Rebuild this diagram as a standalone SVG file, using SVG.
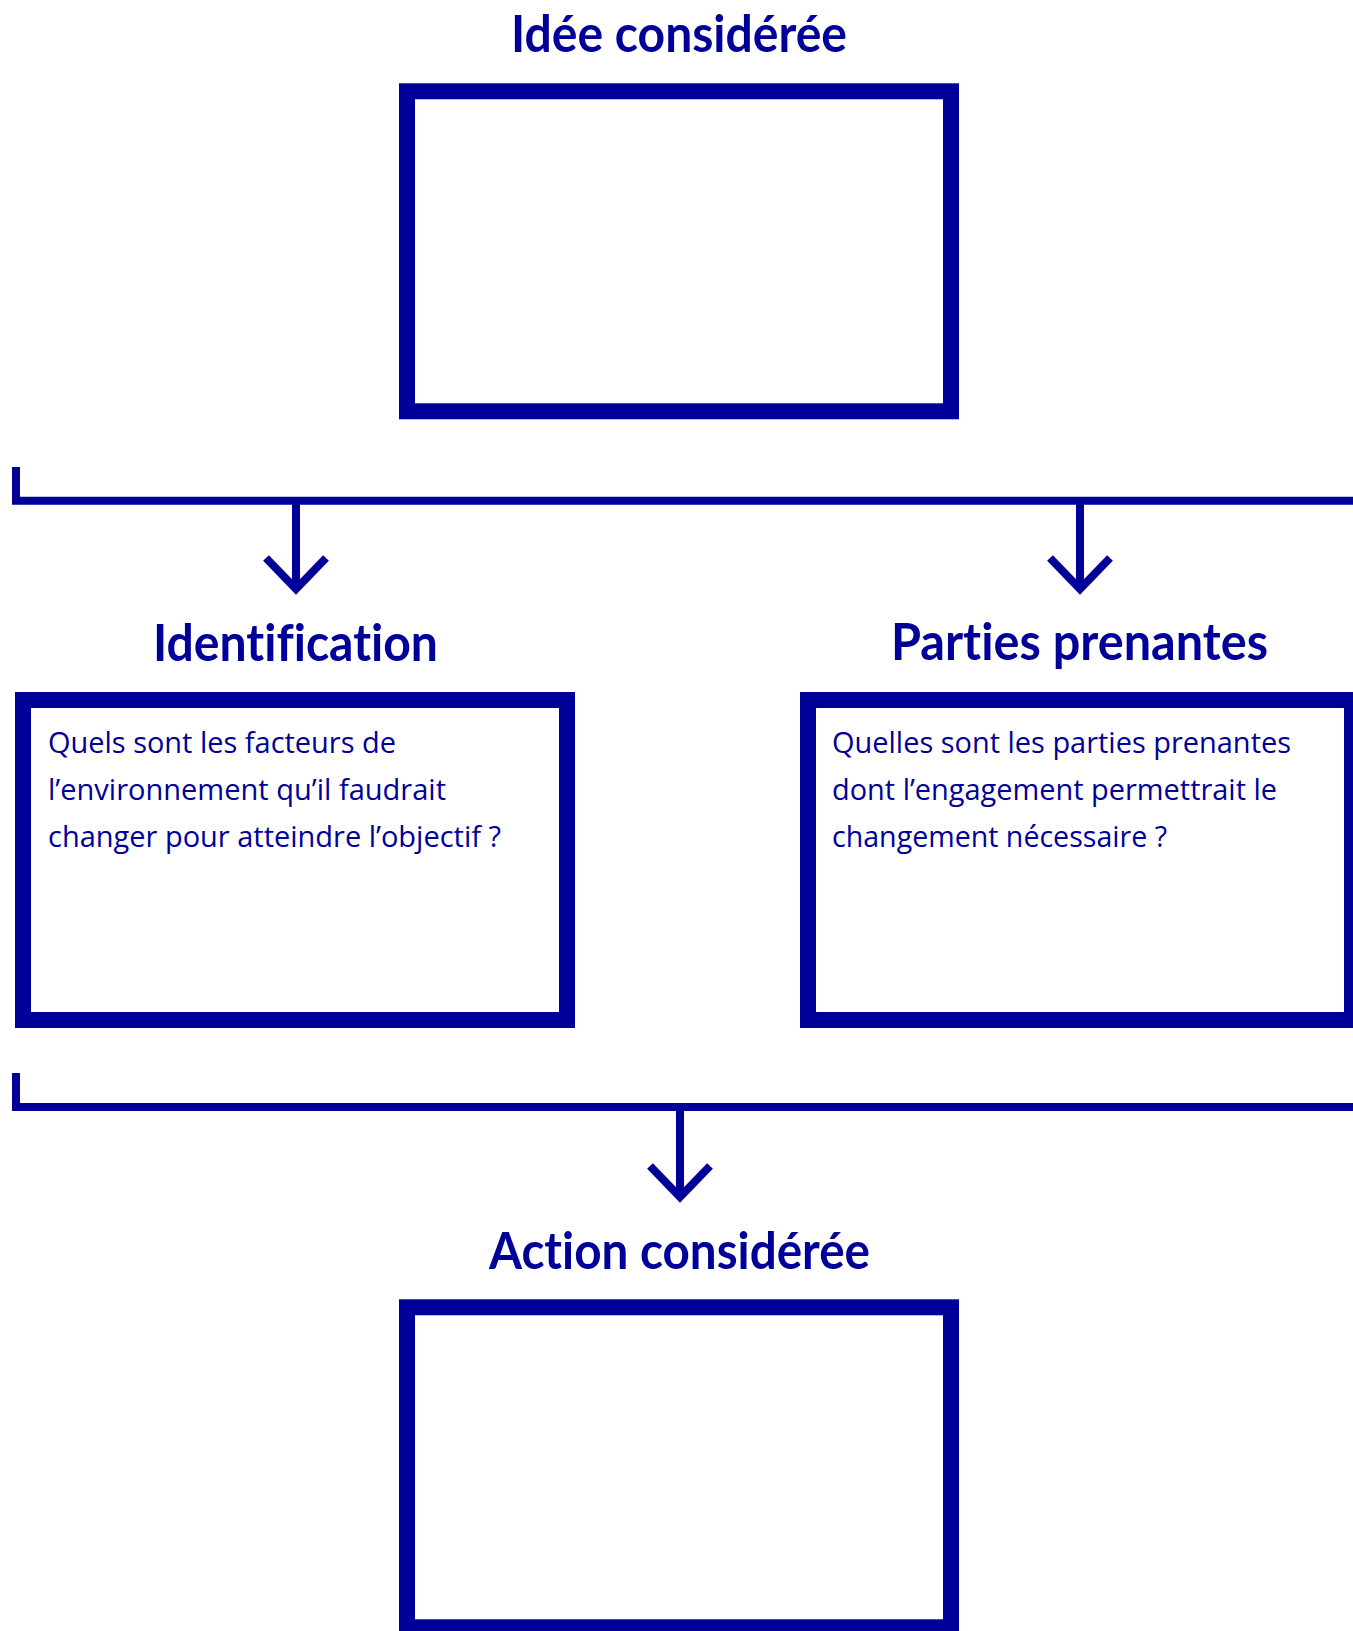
<svg xmlns="http://www.w3.org/2000/svg" width="1353" height="1631" viewBox="0 0 1353 1631">
  <style>
    .box { fill: #ffffff; stroke: #000099; stroke-width: 16; }
    .title { font-family: Lato, "Noto Sans", "Liberation Sans", sans-serif; font-weight: 700; font-size: 51px; fill: #000099; font-variant-ligatures: none; }
    .body { font-family: "Open Sans", "Noto Sans", "Liberation Sans", sans-serif; font-weight: 400; font-size: 29px; fill: #000099; font-variant-ligatures: none; }
    .wire { fill: none; stroke: #000099; stroke-width: 8; stroke-linejoin: miter; stroke-linecap: butt; }
  </style>
  <rect width="1353" height="1631" fill="#ffffff"/>

  <!-- connectors: brackets, stems and open chevron heads -->
  <g id="connectors">
    <path class="wire" d="M16,467 V500.8 H1353"/>
    <path class="wire" d="M296,500.8 V589"/>
    <polyline class="wire" points="266,558 296,589 326,558"/>
    <path class="wire" d="M1080,500.8 V589"/>
    <polyline class="wire" points="1050,558 1080,589 1110,558"/>
    <path class="wire" d="M16,1073 V1107 H1353"/>
    <path class="wire" d="M680,1107 V1197"/>
    <polyline class="wire" points="650,1166 680,1197 710,1166"/>
  </g>

  <g id="idee">
    <text class="title" x="511" y="52" textLength="336" lengthAdjust="spacingAndGlyphs">Idée considérée</text>
    <rect class="box" x="407" y="91.3" width="544" height="320"/>
  </g>

  <g id="identification">
    <text class="title" x="153" y="660.5" textLength="285" lengthAdjust="spacingAndGlyphs">Identification</text>
    <rect class="box" x="23" y="700" width="544" height="320"/>
    <text class="body" x="48" y="752.7" textLength="348" lengthAdjust="spacingAndGlyphs">Quels sont les facteurs de</text>
    <text class="body" x="48" y="799.7" textLength="398" lengthAdjust="spacingAndGlyphs">l’environnement qu’il faudrait</text>
    <text class="body" x="48" y="846.7" textLength="453" lengthAdjust="spacingAndGlyphs">changer pour atteindre l’objectif ?</text>
  </g>

  <g id="parties-prenantes">
    <text class="title" x="891" y="659.5" textLength="377" lengthAdjust="spacingAndGlyphs">Parties prenantes</text>
    <rect class="box" x="808" y="700" width="544" height="320"/>
    <text class="body" x="832" y="752.7" textLength="459" lengthAdjust="spacingAndGlyphs">Quelles sont les parties prenantes</text>
    <text class="body" x="832" y="799.7" textLength="445" lengthAdjust="spacingAndGlyphs">dont l’engagement permettrait le</text>
    <text class="body" x="832" y="846.7" textLength="335" lengthAdjust="spacingAndGlyphs">changement nécessaire ?</text>
  </g>

  <g id="action">
    <text class="title" x="489" y="1268.5" textLength="381" lengthAdjust="spacingAndGlyphs">Action considérée</text>
    <rect class="box" x="407" y="1307.3" width="544" height="320"/>
  </g>
</svg>
